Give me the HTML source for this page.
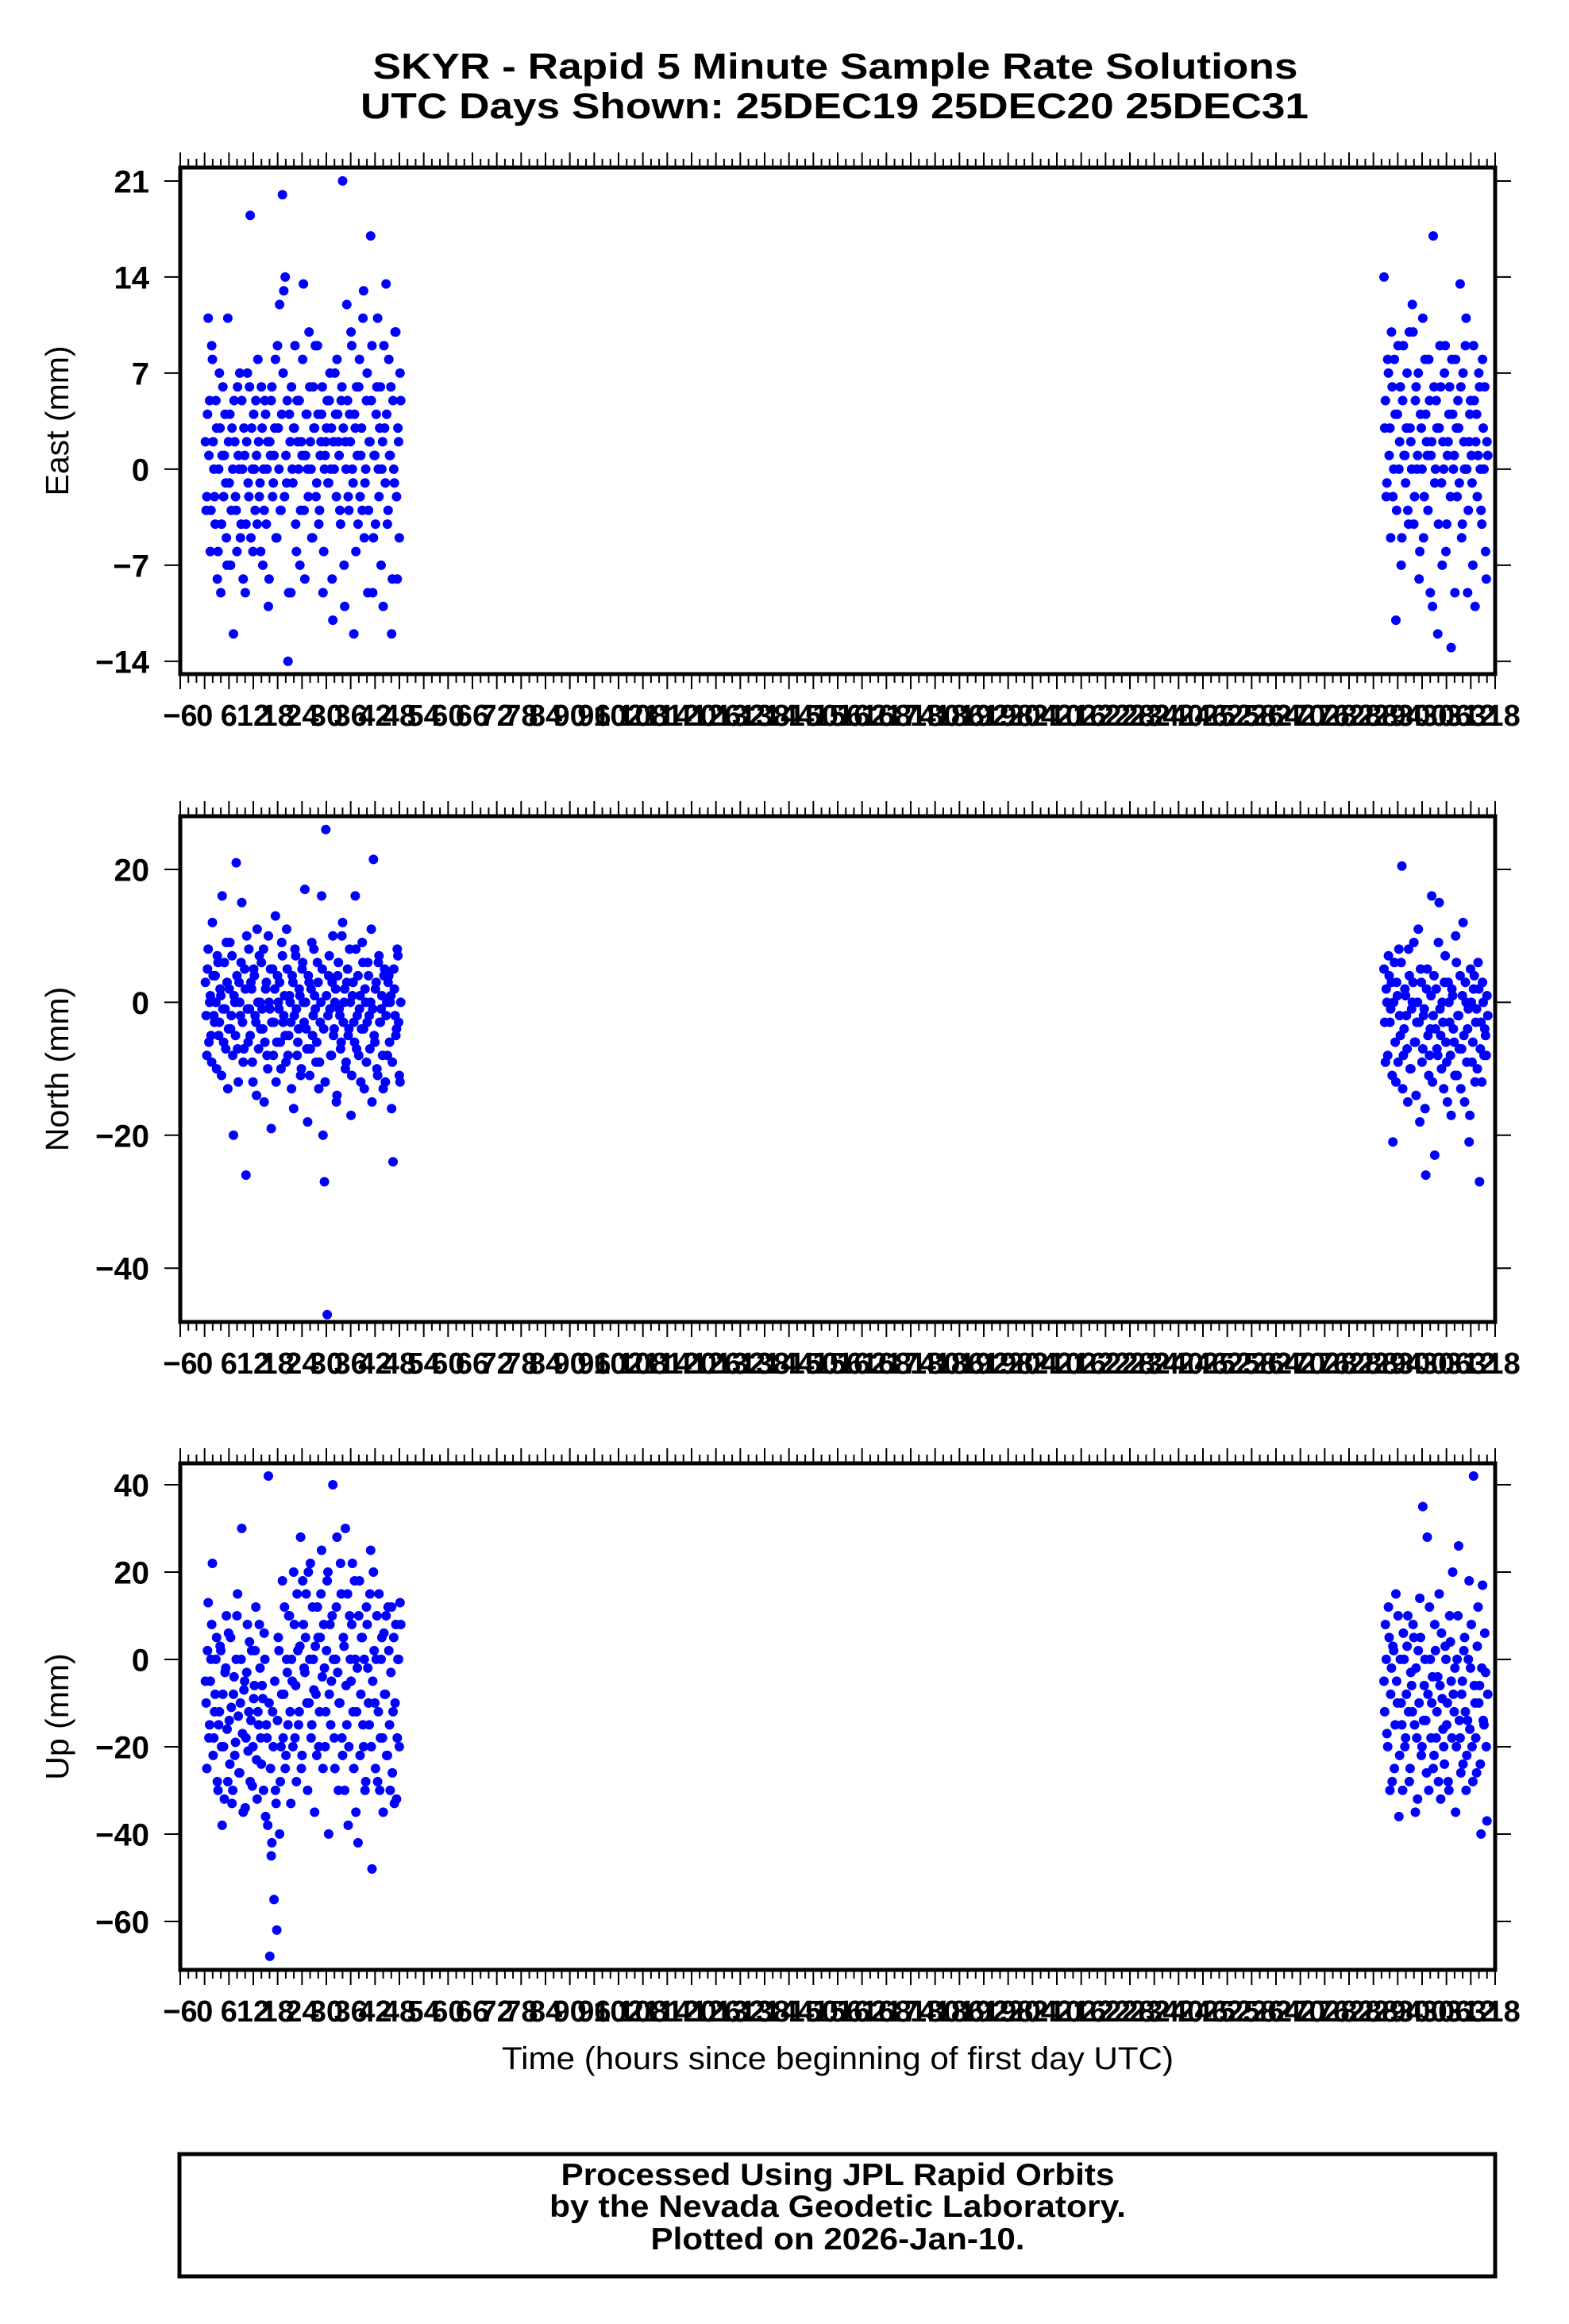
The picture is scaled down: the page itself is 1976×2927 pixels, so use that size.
<!DOCTYPE html>
<html><head><meta charset="utf-8"><style>
html,body{margin:0;padding:0;background:#fff}
svg{display:block}
text{font-family:"Liberation Sans",Arial,sans-serif}
</style></head><body>
<svg id="chart" width="1976" height="2927" viewBox="0 0 1976 2927" xmlns="http://www.w3.org/2000/svg">
<rect width="1976" height="2927" fill="#fff"/>
<text x="1052" y="99" font-size="45" font-weight="bold" text-anchor="middle" textLength="1165" lengthAdjust="spacingAndGlyphs">SKYR - Rapid 5 Minute Sample Rate Solutions</text>
<text x="1051" y="149" font-size="45" font-weight="bold" text-anchor="middle" textLength="1194" lengthAdjust="spacingAndGlyphs">UTC Days Shown:  25DEC19 25DEC20 25DEC31</text>
<text x="1055" y="2606" font-size="40" text-anchor="middle" textLength="846" lengthAdjust="spacingAndGlyphs">Time (hours since beginning of first day UTC)</text>
<rect x="226" y="2713" width="1657" height="154" fill="none" stroke="#000" stroke-width="5"/>
<text x="1055" y="2752" font-size="39" font-weight="bold" text-anchor="middle" textLength="697" lengthAdjust="spacingAndGlyphs">Processed Using JPL Rapid Orbits</text>
<text x="1055" y="2792" font-size="39" font-weight="bold" text-anchor="middle" textLength="726" lengthAdjust="spacingAndGlyphs">by the Nevada Geodetic Laboratory.</text>
<text x="1055" y="2833" font-size="39" font-weight="bold" text-anchor="middle" textLength="471" lengthAdjust="spacingAndGlyphs">Plotted on 2026-Jan-10.</text>
<g id="plots"></g>
</svg>
<script>
const tL0 = 0.2, stepL = 0.345;
const tR0 = 290.6, stepR = 0.368;
const xTickLabels = [];
for (let h = -6; h <= 318; h += 6) xTickLabels.push(h);
const eastLeft = [2,-2,11,5,-3,8,0,-4,3,-6,7,-9,1,-2,4,-5,11,-1,-7,3,
-12,2,-3,6,0,-5,5,-8,1,-4,7,-2,18.5,3,-6,0,5,-4,2,-1,
6,-7,-3,4,0,-10,2,5,-2,1,8,-5,3,12,-3,20,13,14,-1,-14,
4,-9,0,3,9,-6,2,5,-3,1,13.5,-8,4,0,10,2,-5,6,3,-2,
9,-4,1,4,-9,0,2,5,-1,7,3,-11,0,4,8,2,-3,5,21,-7,
2,12,-2,4,10,0,-12,3,6,-4,8,1,-3,13,-1,5,-9,2,17,9,
-5,1,4,11,-2,6,0,-10,3,13.5,-4,8,1,-12,5,-1,10,-8,2,7];
const eastLeft2 = [-3,4,1,-6,9,2,-2,5,-8,0,3,-4,6,1,-1,-7,2,4,-3,0,
5,-2,-6,1,7,-4,0,3,-9,2,-1,6,-5,0,4,-3,1,8,-2,-6,
3,0,5,-4,2,-8,1,6,-1,3,-5,9,0,-3,4,7,-2,1,5,-9,
2,6,-1,3,-4,5,0,-7,2,8,-3,1,4,-2,6,0,-5,3,9,-1,
4,-3,2,6,-6,1,3,-1,5,0,-8,2,7,-2,4,1,-4,6,3,-10,
0,5,-3,2,9,-1,4,-6,1,6,-2,3,11,-5,0,7,-3,2,5,-9,
1,-4,6,0,3,-7,2,9,-1,4,-3,1,6,-8,0,10,-2,3,-5,5];
const eastRight = [14,5,-1,7,3,10,-2,8,-11,4,0,6,-5,9,1,3,-3,10,2,12,
-4,5,0,7,-6,3,11,-2,4,1,8,-9,2,17,-1,5,-12,3,6,-7,
0,9,-4,2,6,-13,4,1,8,-2,3,13.5,-5,7,0,11,-9,2,5,-1,
9,-10,4,1,6,-3,8,0,-6,2];
const eastRight2 = [3,-2,8,1,-5,6,0,4,-3,9,2,-7,5,1,-1,7,-4,3,0,10,
-2,6,1,-8,4,0,-5,8,2,-3,5,1,-10,6,0,3,-4,9,-1,2,
7,-6,1,4,-2,8,0,-9,3,5,-1,6,-4,2,9,0,-3,4,1,-7,
5,2,-2,7,0,-4,3,6,-8,1];
const northLeft = [3,-8,8,0,-5,12,-2,4,-10,6,-3,1,16,-6,-1,9,-13,2,-4,7,
-20,0,21,-7,3,-2,15,-9,5,-26,-1,8,-5,2,-12,4,-3,11,-7,0,
6,-4,-15,2,-8,10,-1,-19,5,-3,13,-6,0,3,-10,7,-2,-5,11,-8,
1,-3,4,-16,8,-1,-6,2,-11,5,0,17,-4,-18,3,-7,9,-2,1,-9,
6,-13,-3,16,-20,-27,26,-47,4,-1,-8,10,-4,2,-14,6,-2,-6,12,0,
-10,3,-5,8,-17,1,-3,16,-7,4,-1,-12,9,-4,2,-9,6,-2,0,-15,
21.5,-6,3,-11,7,-3,1,-13,5,-2,-8,4,0,-16,-24,2,-5,8,-3,-12];
const northLeft2 = [-2,5,-6,1,-9,4,-3,0,7,-5,2,-11,-1,6,-7,3,-4,9,-2,-8,
1,-5,4,-12,0,6,-3,-7,2,10,-6,-1,3,-9,5,-2,-14,0,7,-4,
-1,8,-6,3,-10,0,5,-3,-8,2,-12,4,-1,-6,9,-3,1,-9,5,-5,
0,-13,3,-2,7,-8,-4,1,-10,6,-3,0,-7,4,-11,2,-5,8,-1,-6,
3,-9,0,5,-4,-12,1,-2,7,-8,3,-5,0,-15,4,-1,-7,10,-3,2,
-9,5,-4,0,-11,3,-6,8,-2,-8,1,-4,6,-13,0,-3,4,-7,11,-1,
-5,2,-10,6,-3,-1,-8,4,-12,0,3,-6,1,-9,5,-2,-4,7,-11,0];
const northRight = [5,-9,0,7,-3,3,-21,6,-12,1,8,-5,20.5,-8,2,-2,-15,4,-10,0,
9,-6,-3,11,-18,3,-7,-1,-26,5,-11,-4,16,-2,-23,2,-8,15,-5,0,
-13,7,-9,3,-3,-17,1,-6,10,-11,-2,4,-7,12,-15,0,-4,-21,5,-9,
2,-12,-1,6,-27,-3,3,-8,-5,1];
const northRight2 = [-3,2,-8,4,-1,-11,0,-6,3,-9,-2,6,-13,-4,1,-7,8,-10,-1,3,
-6,-14,0,-3,5,-9,-2,-16,2,-5,-8,1,-12,4,-4,-7,9,-1,-10,-3,
3,-6,-15,0,-8,2,-4,-11,6,-2,-7,-13,1,-5,3,-9,-1,-17,0,-6,
4,-3,-10,2,-7,-12,0,-4,-8,-2];
const upLeft = [-5,-25,13,-15,0,22,-18,-8,5,-30,-12,2,-38,-20,-3,10,-28,-14,5,-33,
-8,-22,0,15,-26,-10,30,-35,-5,-18,8,-12,-28,2,-20,-6,12,-32,-15,-2,
-24,-9,6,-36,-18,42,-68,-45,-12,-55,-30,-62,5,-40,-20,18,-8,-25,0,-15,
10,-33,-5,20,-18,-28,2,-12,28,-22,8,-3,15,-30,-10,22,-15,0,-35,-8,
12,-20,5,25,-25,-2,-12,18,-40,8,-5,40,-18,0,28,-30,-10,15,-22,3,
30,-15,-38,10,-5,22,-25,0,-12,-42,18,-8,5,-20,-30,12,-2,-15,25,-48,
20,-10,0,-28,15,-18,5,-35,-8,10,-22,2,-30,12,-12,-33,8,-18,0,13];
const upLeft2 = [-10,2,-18,-5,8,-22,-12,0,-28,-15,3,-20,-8,-32,-2,-16,6,-24,-11,-30,
-4,-19,10,-13,-26,0,-17,-7,-34,-3,-21,4,-14,-29,-9,2,-23,-12,8,-18,
-6,-30,0,-15,-38,-10,-25,-42,-20,-5,-33,-14,2,-28,-8,-18,12,-22,-3,10,
-12,0,-20,8,-6,15,-15,3,-25,18,-2,5,-10,20,0,-18,12,-7,3,-22,
5,-12,15,-4,8,-20,2,20,-8,-15,10,0,-25,12,-3,-10,22,-18,5,-30,
-6,15,-20,0,8,-12,18,-35,-2,10,-22,5,-15,0,-28,8,-10,15,-20,-5,
2,-25,10,-12,-30,0,-18,6,-8,-22,12,-15,-3,-26,5,-10,-32,0,-20,8];
const upRight = [-5,8,-17,12,-30,-2,3,-25,15,-10,-36,0,-15,6,-20,-8,10,-28,-3,-12,
5,-35,-18,2,14,-22,35,-6,-14,28,-30,0,-10,-25,8,-18,-4,15,-32,-9,
-20,3,-15,-28,10,-5,20,-12,-35,0,26,-18,-8,-24,5,-30,-14,18,-2,-20,
42,-10,-26,12,-6,-40,17,-15,-3,-37];
const upRight2 = [-12,0,-20,5,-8,-28,2,-15,-5,10,-22,-10,-30,0,-18,3,-12,-25,-6,8,
-15,-2,-32,-10,5,-20,-14,0,-26,-8,12,-18,-4,-22,2,-12,-28,-6,6,-16,
-24,0,-10,-30,4,-18,-8,-2,-20,10,-14,-26,-5,2,-12,-22,0,-16,8,-28,
-6,-18,3,-10,-24,-2,-14,6,-20,-8];
const eastTicks = [-14,-7,0,7,14,21];
const northTicks = [-40,-20,0,20];
const upTicks = [-60,-40,-20,0,20,40];

const NS = "http://www.w3.org/2000/svg";
const root = document.getElementById('plots');
const X0 = 227, X1 = 1883, XMIN = -6, XMAX = 318;
function xScale(h){ return X0 + (h - XMIN) / (XMAX - XMIN) * (X1 - X0); }
function mk(tag, attrs, parent){
  const e = document.createElementNS(NS, tag);
  for (const k in attrs) e.setAttribute(k, attrs[k]);
  (parent || root).appendChild(e);
  return e;
}
const panels = [
  {key:'east', title:'East (mm)', top:211, bottom:849, ymax:21.98, ymin:-14.93, ticks:eastTicks, series:[[eastLeft,tL0,stepL],[eastLeft2,tL0+stepL/2,stepL],[eastRight,tR0,stepR],[eastRight2,tR0+stepR/2,stepR]]},
  {key:'north', title:'North (mm)', top:1028, bottom:1665, ymax:28.0, ymin:-48.1, ticks:northTicks, series:[[northLeft,tL0,stepL],[northLeft2,tL0+stepL/2,stepL],[northRight,tR0,stepR],[northRight2,tR0+stepR/2,stepR]]},
  {key:'up', title:'Up (mm)', top:1843, bottom:2481, ymax:44.9, ymin:-71.1, ticks:upTicks, series:[[upLeft,tL0,stepL],[upLeft2,tL0+stepL/2,stepL],[upRight,tR0,stepR],[upRight2,tR0+stepR/2,stepR]]}
];
panels.forEach(p => {
  const g = mk('g', {});
  
  
  const yScale = v => p.top + (p.ymax - v) / (p.ymax - p.ymin) * (p.bottom - p.top);
  const pts = mk('g', {fill:'#0000ff'}, g);
  
  
  p.series.forEach(([vals, t0, st]) => {
    vals.forEach((v, i) => {
      const c = mk('circle', {cx:xScale(t0 + i*st).toFixed(1), cy:yScale(v).toFixed(1), r:6}, pts);
      
      
    });
  });
  const fr = mk('rect', {x:X0, y:p.top, width:X1-X0, height:p.bottom-p.top, fill:'none', stroke:'#000', 'stroke-width':5}, g);
  
  
  const ax = mk('g', {stroke:'#000', 'stroke-width':2}, g);
  
  
  for (let h = XMIN; h <= XMAX; h += 2) {
    const major = (h % 6 === 0);
    const len = major ? 19 : 11;
    const x = xScale(h);
    mk('line', {x1:x, x2:x, y1:p.bottom, y2:p.bottom+len}, ax);
    mk('line', {x1:x, x2:x, y1:p.top, y2:p.top-len}, ax);
  }
  const xl = mk('g', {'font-size':38, 'font-weight':'bold', 'text-anchor':'middle'}, g);
  
  
  xTickLabels.forEach(h => {
    const t = mk('text', {x:xScale(h), y:p.bottom+65}, xl);
    t.textContent = h < 0 ? '\u2212' + Math.abs(h) : String(h);
    
    
  });
  const ay = mk('g', {stroke:'#000', 'stroke-width':2}, g);
  
  
  const yl = mk('g', {'font-size':40, 'font-weight':'bold', 'text-anchor':'end'}, g);
  
  
  p.ticks.forEach(v => {
    const y = yScale(v);
    mk('line', {x1:X0-20, x2:X0, y1:y, y2:y}, ay);
    mk('line', {x1:X1, x2:X1+20, y1:y, y2:y}, ay);
    const t = mk('text', {x:188, y:y+14.5}, yl);
    t.textContent = v < 0 ? '\u2212' + Math.abs(v) : String(v);
    
    
  });
  const yc = (p.top + p.bottom) / 2;
  const tt = mk('text', {x:75, y:yc, 'font-size':41, 'text-anchor':'middle', transform:`rotate(-90 75 ${yc})`, 'dominant-baseline':'middle'}, g);
  tt.textContent = p.title;
  
  
});
</script>
</body></html>
